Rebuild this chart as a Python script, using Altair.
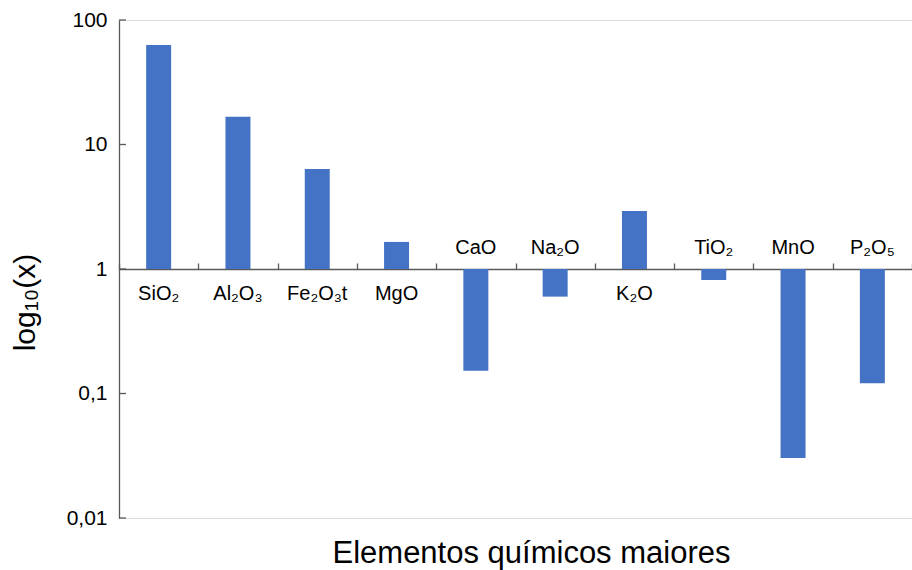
import altair as alt
import pandas as pd

categories = ["SiO₂", "Al₂O₃", "Fe₂O₃t", "MgO", "CaO", "Na₂O", "K₂O", "TiO₂", "MnO", "P₂O₅"]
values = [63.0, 16.7, 6.35, 1.65, 0.152, 0.60, 2.92, 0.816, 0.0303, 0.121]
y_ticks = [0.01, 0.1, 1, 10, 100]

df = pd.DataFrame({"cat": categories, "value": values})
df_ticks = pd.DataFrame({"tick": y_ticks})

W, H = 793, 498
AXIS_COLOR = "#595959"
FONT = "Liberation Sans"

yscale = alt.Scale(type="log", domain=[0.01, 100], nice=False)
xscale = alt.Scale(domain=categories, paddingInner=0, paddingOuter=0)

bars = alt.Chart(df).mark_bar(color="#4472C4", width=alt.RelativeBandSize(0.315)).encode(
    x=alt.X("cat:N", sort=categories, scale=xscale,
            axis=alt.Axis(orient="top", offset=-H / 2, labels=False, title=None,
                          tickBand="extent", ticks=True, tickSize=6,
                          tickColor=AXIS_COLOR, domainColor=AXIS_COLOR,
                          domainWidth=1.3, tickWidth=1.3)),
    y=alt.Y("value:Q", scale=yscale,
            axis=alt.Axis(values=y_ticks, ticks=False, grid=False,
                          labelExpr="replace(toString(datum.value), '.', ',')",
                          labelFontSize=21, labelColor="#000000", labelFont=FONT,
                          labelPadding=12,
                          domainColor=AXIS_COLOR, domainWidth=1.3,
                          title="log₁₀(x)", titleFontSize=30, titleFont=FONT,
                          titleFontWeight="normal", titleColor="#000000",
                          titleAngle=270, titleAlign="center", titleBaseline="alphabetic",
                          titleX=-85, titleY=282)),
    y2=alt.datum(1),
)

tick_rules = alt.Chart(df_ticks).mark_rule(color=AXIS_COLOR, strokeWidth=1.3).encode(
    y=alt.Y("tick:Q", scale=yscale),
    x=alt.value(0),
    x2=alt.value(7),
)

labels_below = alt.Chart(df).transform_filter("datum.value >= 1").mark_text(
    fontSize=20, font=FONT, color="#000000", baseline="alphabetic", dy=31
).encode(
    x=alt.X("cat:N", sort=categories, scale=xscale),
    y=alt.datum(1),
    text="cat:N",
)

labels_above = alt.Chart(df).transform_filter("datum.value < 1").mark_text(
    fontSize=20, font=FONT, color="#000000", baseline="alphabetic", dy=-15
).encode(
    x=alt.X("cat:N", sort=categories, scale=xscale),
    y=alt.datum(1),
    text="cat:N",
)

chart = alt.layer(bars, tick_rules, labels_below, labels_above).properties(
    width=W,
    height=H,
    autosize=alt.AutoSizeParams(type="none"),
    padding={"left": 119, "top": 20, "right": 0, "bottom": 52},
    title=alt.TitleParams("Elementos químicos maiores", orient="bottom", anchor="middle",
                          fontSize=31, font=FONT, fontWeight="normal", color="#000000",
                          offset=11, dx=16),
).configure_view(stroke=None).configure(background="white")

chart.save("out.html", embed_options={"renderer": "svg", "actions": False})
